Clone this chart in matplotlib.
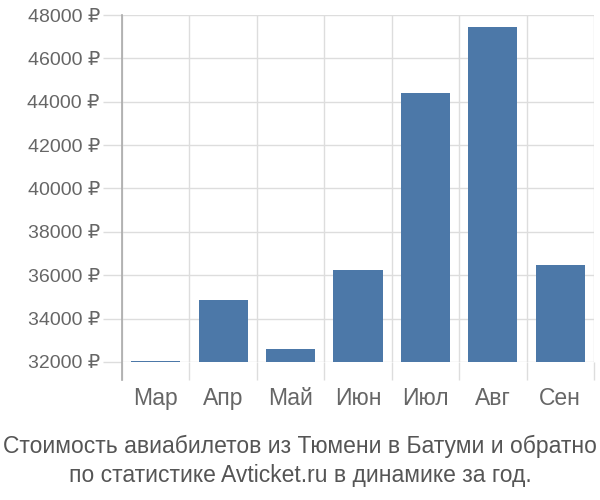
import matplotlib
matplotlib.use("Agg")
import matplotlib.pyplot as plt
import numpy as np

plt.rcParams["font.family"] = ["Liberation Sans", "DejaVu Sans"]

months = ["Мар", "Апр", "Май", "Июн", "Июл", "Авг", "Сен"]
prices = [32050, 34850, 32600, 36250, 44400, 47430, 36460]
yticks = [32000, 34000, 36000, 38000, 40000, 42000, 44000, 46000, 48000]
title = ("Стоимость авиабилетов из Тюмени в Батуми и обратно\n"
         "по статистике Avticket.ru в динамике за год.")

grid_c = "#dddddd"
text_c = "#666666"

fig = plt.figure(figsize=(6, 5), dpi=100)
ax = fig.add_axes([122 / 600, 1 - 362 / 500, (594 - 122) / 600, (362 - 15) / 500])

x = np.arange(len(months))
ax.bar(x, np.array(prices) - yticks[0], bottom=yticks[0], width=0.73,
       color="#4c78a8", zorder=3)

ax.set_xlim(-0.5, len(months) - 0.5)
ax.set_ylim(yticks[0], yticks[-1])

# grid
ax.set_yticks(yticks)
ax.set_yticklabels([f"{v} ₽" for v in yticks])
ax.set_xticks(x)
ax.set_xticklabels(months)
ax.set_xticks(np.arange(-0.5, len(months)), minor=True)
ax.grid(axis="y", color=grid_c, linewidth=1, zorder=0)
ax.grid(axis="x", which="minor", color=grid_c, linewidth=1, zorder=0)
ax.tick_params(axis="y", length=14, width=1, color=grid_c, pad=2,
               labelsize=14, labelcolor=text_c)
ax.tick_params(axis="x", which="major", length=0, pad=18,
               labelsize=16.5, labelcolor=text_c)
ax.tick_params(axis="x", which="minor", length=13, width=1, color=grid_c)

for s in ax.spines.values():
    s.set_visible(False)
ax.plot([-0.5, -0.5], [yticks[0] - 18 / 347 * 16000, yticks[-1]],
        color="#aaaaaa", linewidth=1.2, clip_on=False, zorder=4)

fig.text(0.5, 1 - 461 / 500, title, ha="center", va="center",
         fontsize=16.5, color="#555555", linespacing=1.35)

fig.savefig("out.png", dpi=100)
